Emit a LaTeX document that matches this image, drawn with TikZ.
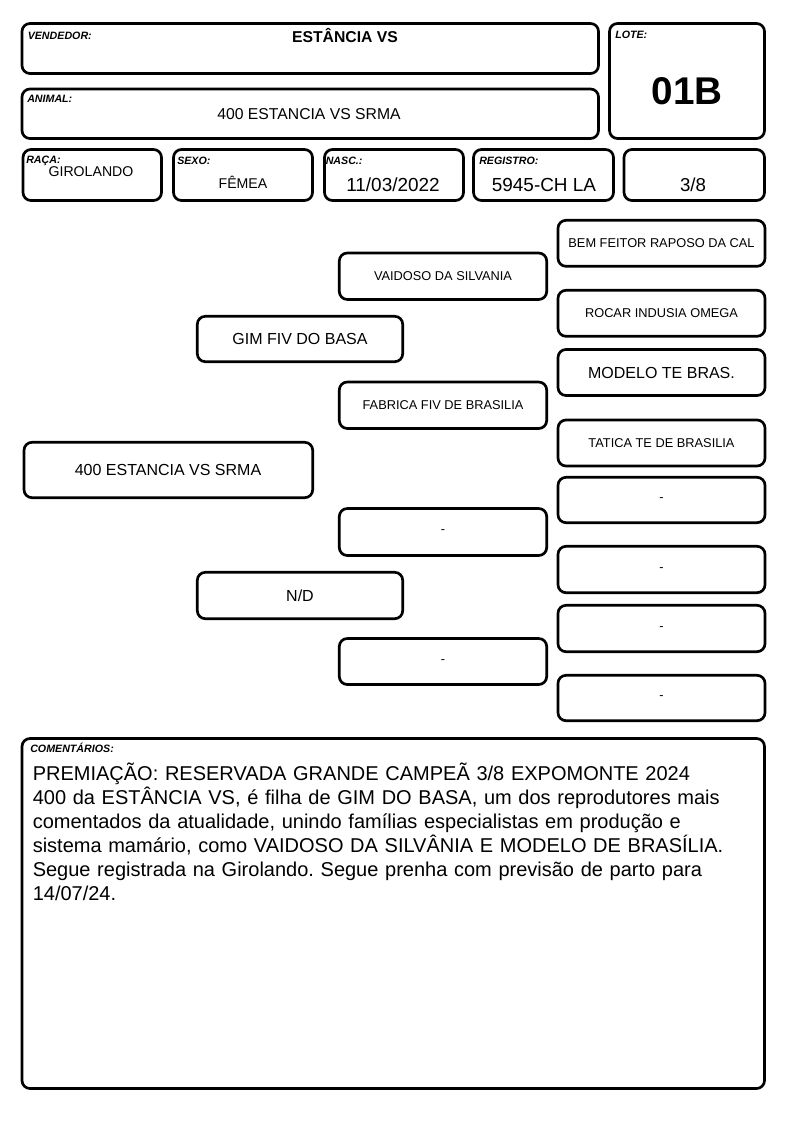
\documentclass[tikz,border=0pt]{standalone}
\usepackage{fontspec}
\setmainfont{Liberation Sans}
\usepackage{tikz}
\frenchspacing

\tikzset{
  caixa/.style={line width=2pt, rounded corners=6pt},
  rotulo/.style={anchor=base west, inner sep=0pt, font=\bfseries\itshape\fontsize{8pt}{9pt}\selectfont},
  valor/.style={anchor=base, inner sep=0pt},
  nomeP/.style={inner sep=0pt, font=\fontsize{9.6pt}{11pt}\selectfont},
  nomeG/.style={inner sep=0pt, font=\fontsize{12pt}{14pt}\selectfont}
}

\begin{document}
\begin{tikzpicture}[x=0.75pt,y=0.75pt,yscale=-1,xscale=1]
\path[use as bounding box] (0,0) rectangle (794,1123);

%Shape: Rounded Rect (cabecalho)
\draw[caixa] (22,23.5) rectangle (598.5,73.5);
\draw[caixa] (22,89) rectangle (598.5,138.5);
\draw[caixa] (609.5,23.5) rectangle (764.5,138.5);
\draw[caixa] (23,149.5) rectangle (161.5,200.5);
\draw[caixa] (173.5,149.5) rectangle (312.5,200.5);
\draw[caixa] (324.5,149.5) rectangle (463.5,200.5);
\draw[caixa] (473.5,149.5) rectangle (613.5,200.5);
\draw[caixa] (624,149.5) rectangle (764.5,200.5);

% Text Node
\node[rotulo] (vendedorRot) at (27.5,39.5) {VENDEDOR:};
\node[valor, font=\bfseries\fontsize{11.8pt}{14pt}\selectfont] (vendedor) at (345,42.3) {ESTÂNCIA VS};
% Text Node
\node[rotulo] (animalRot) at (27,102.5) {ANIMAL:};
\node[valor, font=\fontsize{11.8pt}{14pt}\selectfont] (animal) at (309,119.5) {400 ESTANCIA VS SRMA};
% Text Node
\node[rotulo] (loteRot) at (615,38.3) {LOTE:};
\node[valor, font=\bfseries\fontsize{29pt}{34pt}\selectfont] (lote) at (687,105) {01B};
% Text Node
\node[rotulo] (racaRot) at (26,163.3) {RAÇA:};
\node[valor, font=\fontsize{10.6pt}{12pt}\selectfont] (raca) at (91,176.7) {GIROLANDO};
% Text Node
\node[rotulo] (sexoRot) at (177,165) {SEXO:};
\node[valor, font=\fontsize{10.6pt}{12pt}\selectfont] (sexo) at (243,189) {FÊMEA};
% Text Node
\node[rotulo] (nascRot) at (325.5,165) {NASC.:};
\node[valor, font=\fontsize{14.2pt}{16pt}\selectfont] (nasc) at (393,191.7) {11/03/2022};
% Text Node
\node[rotulo] (registroRot) at (479,165) {REGISTRO:};
\node[valor, font=\fontsize{14.2pt}{16pt}\selectfont] (registro) at (544,191.7) {5945-CH LA};
% Text Node
\node[valor, font=\fontsize{14pt}{16pt}\selectfont] (fracao) at (693,191.7) {3/8};

%Shape: Rounded Rect (genealogia)
\draw[caixa] (24,442.3) rectangle (312.7,497.7);
\draw[caixa] (197.3,316.3) rectangle (402.7,361.7);
\draw[caixa] (197.3,572.3) rectangle (402.7,618.7);
\draw[caixa] (339.3,253) rectangle (546.7,299.5);
\draw[caixa] (339.3,382) rectangle (546.7,428.5);
\draw[caixa] (339.3,508.5) rectangle (546.7,555.5);
\draw[caixa] (339.3,638.5) rectangle (546.7,684.5);
\draw[caixa] (558,220.3) rectangle (765,266.3);
\draw[caixa] (558,290.3) rectangle (765,336.3);
\draw[caixa] (558,349.5) rectangle (765,395.5);
\draw[caixa] (558,420) rectangle (765,466);
\draw[caixa] (558,477.3) rectangle (765,522.7);
\draw[caixa] (558,546.3) rectangle (765,592.7);
\draw[caixa] (558,605.3) rectangle (765,651.7);
\draw[caixa] (558,675.3) rectangle (765,720.7);

% Text Node
\node[nomeG] (animalG) at (168,470) {400 ESTANCIA VS SRMA};
\node[nomeG] (pai) at (300,339) {GIM FIV DO BASA};
\node[nomeG] (mae) at (300,595.5) {N/D};
\node[nomeP] (avoPP) at (443,276.3) {VAIDOSO DA SILVANIA};
\node[nomeP] (avoPM) at (443,405.3) {FABRICA FIV DE BRASILIA};
\node[nomeP] (avoMP) at (443,532) {-};
\node[nomeP] (avoMM) at (443,661.5) {-};
\node[nomeP] (bisA) at (661.5,243.3) {BEM FEITOR RAPOSO DA CAL};
\node[nomeP] (bisB) at (661.5,313.3) {ROCAR INDUSIA OMEGA};
\node[nomeG] (bisC) at (661.5,372.5) {MODELO TE BRAS.};
\node[nomeP] (bisD) at (661.5,443) {TATICA TE DE BRASILIA};
\node[nomeP] (bisE) at (661.5,500) {-};
\node[nomeP] (bisF) at (661.5,569.5) {-};
\node[nomeP] (bisG) at (661.5,628.5) {-};
\node[nomeP] (bisH) at (661.5,698) {-};

%Shape: Rounded Rect (comentarios)
\draw[caixa] (22,738.5) rectangle (764.5,1088.5);
% Text Node
\node[rotulo] (comentRot) at (30,752.7) {COMENTÁRIOS:};
\node[anchor=base west, inner sep=0pt, text width=540pt, align=left,
      font=\fontsize{15pt}{18pt}\selectfont] (coment) at (32.5,780) {PREMIAÇÃO: RESERVADA GRANDE CAMPEÃ 3/8 EXPOMONTE 2024\\
400 da ESTÂNCIA VS, é filha de GIM DO BASA, um dos reprodutores mais\\
comentados da atualidade, unindo famílias especialistas em produção e\\
sistema mamário, como VAIDOSO DA SILVÂNIA E MODELO DE BRASÍLIA.\\
Segue registrada na Girolando. Segue prenha com previsão de parto para\\
14/07/24.};
\end{tikzpicture}
\end{document}
